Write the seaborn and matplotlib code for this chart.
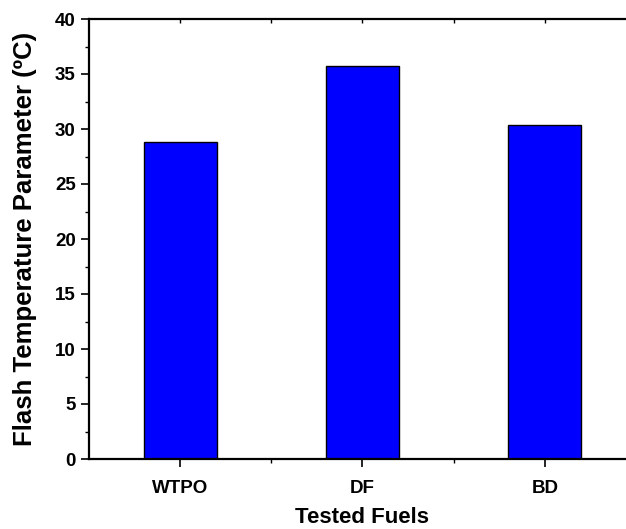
import matplotlib
matplotlib.use("Agg")
import matplotlib.pyplot as plt
import seaborn as sns
import pandas as pd
from matplotlib.ticker import MultipleLocator, FixedLocator

fuels = ["WTPO", "DF", "BD"]
flash_temp = [28.8, 35.7, 30.4]

sns.set_style("white")
plt.rcParams['font.family'] = ['Liberation Sans', 'DejaVu Sans']
plt.rcParams['font.weight'] = 'bold'
plt.rcParams['text.color'] = 'black'
plt.rcParams['axes.labelcolor'] = 'black'

df = pd.DataFrame({"Fuel": fuels, "Flash": flash_temp})

fig = plt.figure(figsize=(6.26, 5.29), dpi=100)
ax = fig.add_axes([89/626, 70/529, 547/626, 440/529])
sns.barplot(data=df, x="Fuel", y="Flash", color="#0000FF", saturation=1,
            width=0.4, edgecolor="black", linewidth=1.0, ax=ax)

ax.set_xlim(-0.5, 2.5)
ax.set_ylim(0, 40)
ax.yaxis.set_major_locator(MultipleLocator(5))
ax.yaxis.set_minor_locator(MultipleLocator(2.5))
ax.xaxis.set_minor_locator(FixedLocator([0.5, 1.5]))

for s in ax.spines.values():
    s.set_color("black")
    s.set_linewidth(1.6)

ax.tick_params(axis='both', which='major', direction='out', length=6, width=1.2,
               labelsize=13.5, colors='black')
ax.tick_params(axis='both', which='minor', direction='out', length=3, width=1.0,
               colors='black')
ax.tick_params(axis='x', which='both', top=False, bottom=True)
ax.tick_params(axis='x', which='major', pad=9)
ax.tick_params(axis='y', which='both', left=True)
for lab in ax.get_xticklabels() + ax.get_yticklabels():
    lab.set_fontweight('bold')

# inward ticks on top spine
sec = ax.secondary_xaxis('top')
sec.set_xticks([0, 1, 2])
sec.xaxis.set_minor_locator(FixedLocator([0.5, 1.5]))
sec.tick_params(which='both', direction='in', length=3, width=1.0, colors='black',
                labeltop=False)
sec.spines['top'].set_visible(False)

ax.set_xlabel("Tested Fuels", fontsize=16, fontweight='bold', labelpad=7)
ax.set_ylabel("Flash Temperature Parameter (ºC)", fontsize=18.5, fontweight='bold', labelpad=13)

fig.savefig("out.png", dpi=100)
